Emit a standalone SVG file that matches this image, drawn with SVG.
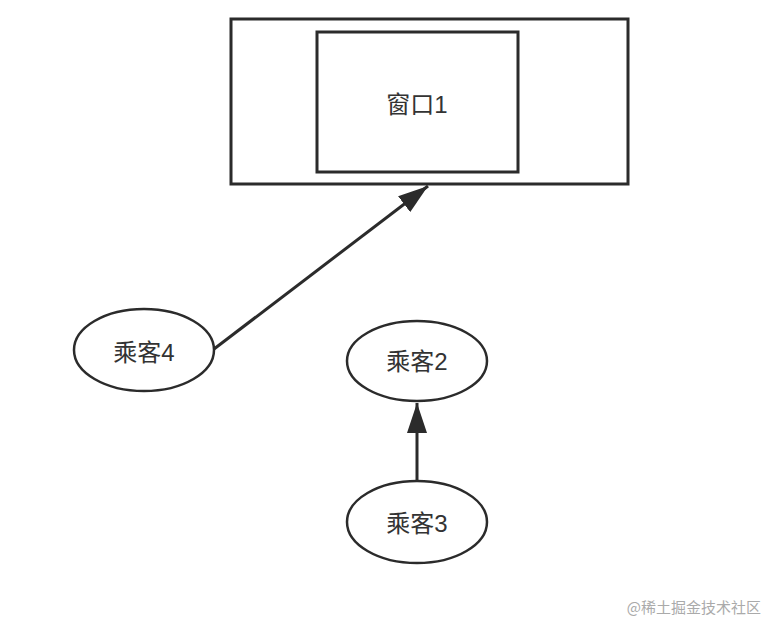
<svg xmlns="http://www.w3.org/2000/svg" width="777" height="636" viewBox="0 0 777 636">
<style>
.box{fill:none;stroke:#2b2b2b;stroke-width:3}
.node{fill:#fff;stroke:#2b2b2b;stroke-width:2.5}
.lbl{font-family:"Liberation Sans","Noto Sans CJK SC",sans-serif;font-size:24px;fill:#333;text-anchor:middle;dominant-baseline:central}
.edge{fill:none;stroke:#2b2b2b;stroke-width:3}
.wm{font-family:"Noto Sans CJK SC",sans-serif;font-size:15px;fill:#aaa;text-anchor:end}
</style>
<defs>
<marker id="ah" viewBox="0 0 30 20" refX="30" refY="10" markerWidth="30" markerHeight="20" markerUnits="userSpaceOnUse" orient="auto">
<path d="M0,0 L30,10 L0,20 Z" fill="#2b2b2b"/>
</marker>
</defs>
<rect width="777" height="636" fill="#fff"/>
<g id="outer">
<rect class="box" x="231" y="19" width="397" height="165"/>
</g>
<g id="window1">
<rect class="box" x="317" y="32" width="201" height="140"/>
<text class="lbl" x="417" y="104">窗口1</text>
</g>
<g id="p4">
<ellipse class="node" cx="144" cy="350" rx="70" ry="41"/>
<text class="lbl" x="144" y="352">乘客4</text>
</g>
<g id="p2">
<ellipse class="node" cx="417" cy="361" rx="70" ry="40"/>
<text class="lbl" x="417" y="361">乘客2</text>
</g>
<g id="p3">
<ellipse class="node" cx="417" cy="522" rx="70" ry="41"/>
<text class="lbl" x="417" y="523">乘客3</text>
</g>
<g id="connectors">
<line class="edge" x1="214" y1="349" x2="428" y2="186" marker-end="url(#ah)"/>
<line class="edge" x1="417" y1="481" x2="417" y2="403" marker-end="url(#ah)"/>
</g>
<text class="wm" x="761" y="613">@稀土掘金技术社区</text>
</svg>
